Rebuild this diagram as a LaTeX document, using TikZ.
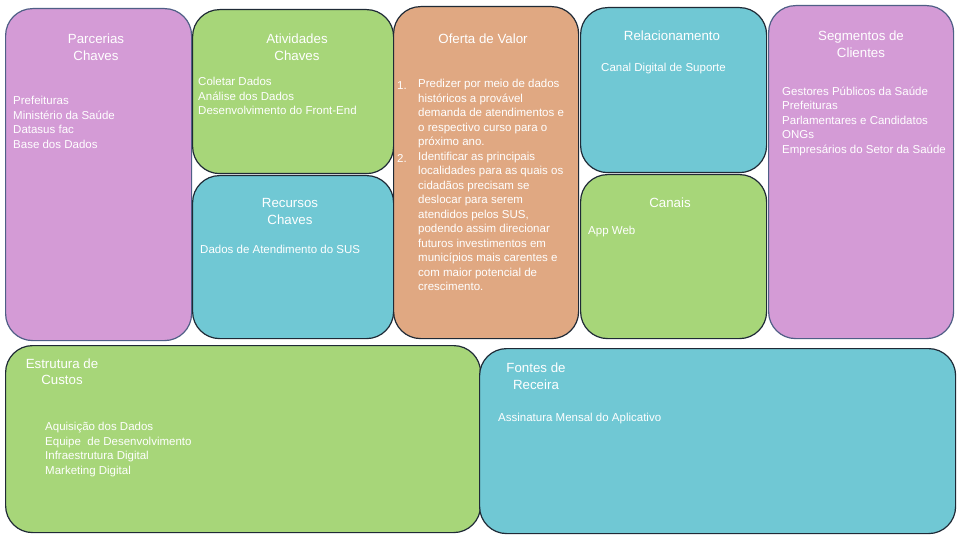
\documentclass[tikz,border=0pt]{standalone}
\usepackage{fontspec}
\setmainfont{Liberation Sans}
\definecolor{cpurple}{HTML}{D49BD6}
\definecolor{cgreen}{HTML}{A7D679}
\definecolor{cblue}{HTML}{70C8D4}
\definecolor{corange}{HTML}{E0A882}
\definecolor{cedge}{HTML}{1F2A36}
\definecolor{cedgeb}{HTML}{4F5F86}
\begin{document}
\begin{tikzpicture}[x=1pt,y=-1pt,
  box/.style={draw=cedge, line width=1.2pt, rounded corners=27pt, inner sep=0pt, anchor=north west},
  title/.style={text=white, inner sep=0pt, anchor=north, align=center, yshift=11.9pt,
     font=\fontsize{13.3}{17}\selectfont, execute at begin node=\strut},
  body/.style={text=white, inner sep=0pt, anchor=north west, align=left, yshift=10.15pt,
     font=\fontsize{11.5}{14.5}\selectfont, execute at begin node=\strut}
]
\useasboundingbox[fill=white] (0,0) rectangle (960,540);
% boxes
\node[box, fill=cpurple, draw=cedgeb, minimum width=186pt, minimum height=332pt] (parc) at (5,8) {};
\node[box, fill=cgreen, minimum width=201pt, minimum height=164pt] (ativ) at (192,9) {};
\node[box, fill=cblue, minimum width=201pt, minimum height=163pt] (recu) at (192,175) {};
\node[box, fill=corange, minimum width=185pt, minimum height=332pt] (ofer) at (393,6) {};
\node[box, fill=cblue, minimum width=186pt, minimum height=165pt] (rela) at (580,7) {};
\node[box, fill=cgreen, minimum width=186pt, minimum height=164pt] (cana) at (580,174) {};
\node[box, fill=cpurple, draw=cedgeb, minimum width=185pt, minimum height=333pt] (segm) at (768,5) {};
\node[box, fill=cgreen, minimum width=475pt, minimum height=187pt] (estr) at (5,345) {};
\node[box, fill=cblue, minimum width=476pt, minimum height=185pt] (font) at (479,348) {};
% titles
\node[title] (tparc) at (96,46) {Parcerias\\Chaves};
\node[title] (tativ) at (297,46) {Atividades\\Chaves};
\node[title] (trecu) at (290,210) {Recursos\\Chaves};
\node[title] (tofer) at (483,43.5) {Oferta de Valor};
\node[title] (trela) at (672,40.5) {Relacionamento};
\node[title] (tcana) at (670,207) {Canais};
\node[title] (tsegm) at (861,43) {Segmentos de\\Clientes};
\node[title, font=\fontsize{13.3}{16}\selectfont] (testr) at (62,370.5) {Estrutura de\\Custos};
\node[title] (tfont) at (536,374.5) {Fontes de\\Receira};
% bodies
\node[body] (bparc) at (13,106.5) {Prefeituras\\Ministério da Saúde\\Datasus fac\\Base dos Dados};
\node[body] (bativ) at (198,87.5) {Coletar Dados\\Análise dos Dados\\Desenvolvimento do Front-End};
\node[body] (brecu) at (200,253) {Dados de Atendimento do SUS};
\node[body] (n1) at (397,89.5) {1.};
\node[body] (n2) at (397,162.5) {2.};
\node[body] (bofer) at (418,89.5) {Predizer por meio de dados\\históricos a provável\\demanda de atendimentos e\\o respectivo curso para o\\próximo ano.\\Identificar as principais\\localidades para as quais os\\cidadãos precisam se\\deslocar para serem\\atendidos pelos SUS,\\podendo assim direcionar\\futuros investimentos em\\municípios mais carentes e\\com maior potencial de\\crescimento.};
\node[body] (brela) at (601,71) {Canal Digital de Suporte};
\node[body] (bcana) at (588,234) {App Web};
\node[body] (bsegm) at (782,96.5) {Gestores Públicos da Saúde\\Prefeituras\\Parlamentares e Candidatos\\ONGs\\Empresários do Setor da Saúde};
\node[body] (bestr) at (45,432.5) {Aquisição dos Dados\\Equipe\ \ de Desenvolvimento\\Infraestrutura Digital\\Marketing Digital};
\node[body] (bfont) at (498,421) {Assinatura Mensal do Aplicativo};
\end{tikzpicture}
\end{document}
